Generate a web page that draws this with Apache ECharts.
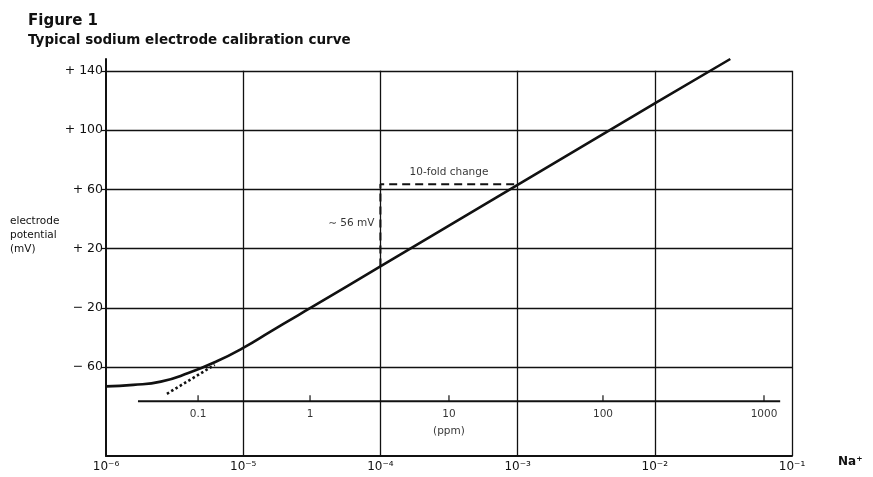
<!DOCTYPE html>
<html><head><meta charset="utf-8">
<script src="https://cdn.jsdelivr.net/npm/echarts@6/dist/echarts.min.js"></script>
<style>html,body{margin:0;padding:0;background:#fff}#c{width:873px;height:477px}</style>
</head><body><div id="c"></div>
<script>
// ---- data ----
const yTicks = [-60, -20, 20, 60, 100, 140];
const xDecades = [1e-6, 1e-5, 1e-4, 1e-3, 1e-2, 1e-1];
const naConc = [1e-6, 1.58e-6, 2.51e-6, 3.98e-6, 6.31e-6, 1e-5, 1.58e-5, 2.51e-5, 3.16e-5, 1e-4, 1e-3, 1e-2, 3.55e-2];
const potential = [-73, -72, -69.8, -64, -56.4, -47, -36, -25, -19.5, 8, 63, 118, 148];
const extrapConc = [2.78e-6, 6.2e-6];
const extrapPotential = [-78, -58.5];
const foldConc = [1e-4, 1e-3];
const foldPotential = [8, 63.5];
const mvNoteAt = [1e-4, 37];
const foldNoteAt = [3.16e-4, 63.5];
const ppmLabels = ['0.1', '1', '10', '100', '1000'];
const ppmConc = [4.69e-6, 3.07e-5, 3.16e-4, 4.19e-3, 6.25e-2];
const ppmAxisLevel = -83;
const ppmAxisRange = [1.71e-6, 0.082];
const yMin = -120, yMax = 148, gridTop = 140;
const xMin = 1e-6, xMax = 1e-1;

const INK = '#111';
const FONT = '"DejaVu Sans", "Liberation Sans", Arial, sans-serif';
const supMap = {'-':'\u207B','0':'\u2070','1':'\u00B9','2':'\u00B2','3':'\u00B3','4':'\u2074','5':'\u2075','6':'\u2076','7':'\u2077','8':'\u2078','9':'\u2079'};
function sup(n){ return String(n).split('').map(c => supMap[c] || c).join(''); }

const gridLines = [];
yTicks.forEach(v => gridLines.push([{coord:[xMin, v]}, {coord:[xMax, v]}]));
xDecades.slice(1).forEach(d => gridLines.push([{coord:[d, yMin]}, {coord:[d, gridTop]}]));

const chart = echarts.init(document.getElementById('c'));
chart.setOption({
  animation: false,
  backgroundColor: '#fff',
  textStyle: {fontFamily: FONT, color: INK},
  title: {
    text: 'Figure 1',
    subtext: 'Typical sodium electrode calibration curve',
    left: 23, top: 9, itemGap: 4,
    textStyle: {fontFamily: FONT, fontSize: 15, fontWeight: 'bold', color: INK},
    subtextStyle: {fontFamily: FONT, fontSize: 13.5, fontWeight: 'bold', color: INK}
  },
  graphic: [{
    type: 'text', left: 10, top: 214,
    style: {text: 'electrode\npotential\n(mV)', fontFamily: FONT, fontSize: 10.5, lineHeight: 14, fill: INK}
  }],
  grid: {left: 106, right: 81, top: 59, bottom: 21},
  xAxis: {
    type: 'log', logBase: 10, min: xMin, max: xMax,
    name: 'Na\u207A', nameLocation: 'end', nameGap: 46,
    nameTextStyle: {fontFamily: FONT, fontSize: 12, fontWeight: 'bold', color: INK, verticalAlign: 'top', padding: [0, 0, 0, 0]},
    axisLine: {onZero: false, lineStyle: {color: INK, width: 2}},
    axisTick: {show: false},
    splitLine: {show: false},
    minorTick: {show: false},
    axisLabel: {
      fontFamily: FONT, fontSize: 12, color: INK, margin: 5,
      formatter: v => '10' + sup(Math.round(Math.log10(v)))
    }
  },
  yAxis: {
    type: 'value', min: yMin, max: yMax,
    axisLine: {show: true, lineStyle: {color: INK, width: 2}},
    axisTick: {show: true, length: 5, lineStyle: {color: INK, width: 1.2}, customValues: yTicks},
    splitLine: {show: false},
    axisLabel: {
      fontFamily: FONT, fontSize: 12.5, color: INK, margin: 3, customValues: yTicks,
      formatter: v => (v > 0 ? '+ ' : '\u2212 ') + Math.abs(v)
    }
  },
  series: [
    {
      type: 'line', name: 'grid', data: [], silent: true,
      markLine: {
        silent: true, symbol: ['none', 'none'], label: {show: false},
        lineStyle: {color: INK, width: 1.3, type: 'solid'},
        data: gridLines
      }
    },
    {
      type: 'line', name: 'ppm axis', silent: true, symbol: 'none',
      data: ppmAxisRange.map(c => [c, ppmAxisLevel]),
      lineStyle: {color: INK, width: 2}
    },
    {
      type: 'scatter', name: 'ppm ticks', silent: true,
      symbol: 'rect', symbolSize: [1.5, 6], symbolOffset: [0, -3],
      itemStyle: {color: INK},
      data: ppmConc.map((c, i) => ({value: [c, ppmAxisLevel], name: ppmLabels[i]})),
      label: {
        show: true, position: 'bottom', distance: 5,
        fontFamily: FONT, fontSize: 10.5, color: '#000', lineHeight: 17,
        formatter: p => p.name === '10' ? '10\n(ppm)' : p.name
      }
    },
    {
      type: 'line', name: 'calibration', silent: true, symbol: 'none',
      smooth: 0.5,
      data: naConc.map((c, i) => [c, potential[i]]),
      lineStyle: {color: INK, width: 2.6},
      z: 5
    },
    {
      type: 'line', name: 'extrapolation', silent: true, symbol: 'none',
      data: extrapConc.map((c, i) => [c, extrapPotential[i]]),
      lineStyle: {color: INK, width: 2.6, type: [2.5, 2.5]}
    },
    {
      type: 'line', name: 'fold', silent: true, symbol: 'none',
      data: [[foldConc[0], foldPotential[0]], [foldConc[0], foldPotential[1]], [foldConc[1], foldPotential[1]]],
      lineStyle: {color: INK, width: 2, type: [8, 5]}
    },
    {
      type: 'scatter', name: 'notes', silent: true, symbolSize: 0,
      data: [
        {value: mvNoteAt, label: {position: 'left', distance: 6, formatter: '\u223C 56 mV'}},
        {value: foldNoteAt, label: {position: 'top', distance: 6, formatter: '10-fold change'}}
      ],
      label: {show: true, fontFamily: FONT, fontSize: 10.5, color: '#000'}
    }
  ]
});
</script>
</body></html>
